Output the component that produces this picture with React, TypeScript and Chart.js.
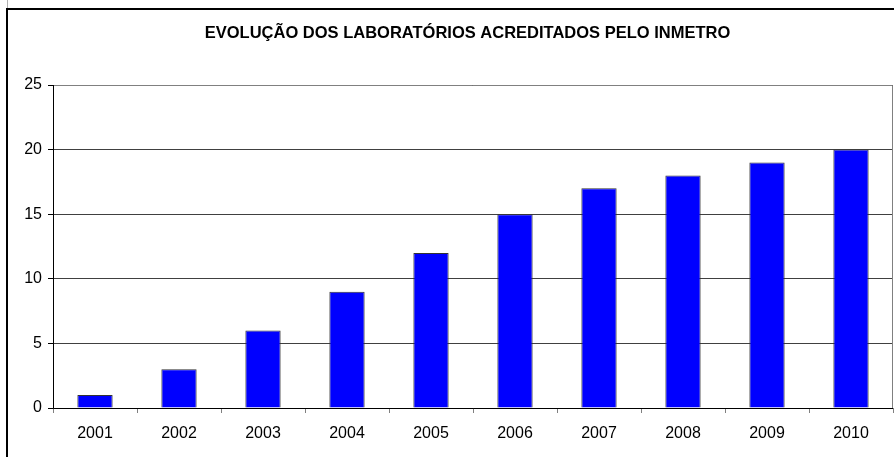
import React, { useEffect, useRef } from "react";
import { Chart, registerables } from "chart.js";

Chart.register(...registerables);

const TITLE = "EVOLUÇÃO DOS LABORATÓRIOS ACREDITADOS PELO INMETRO";
const years = ["2001", "2002", "2003", "2004", "2005", "2006", "2007", "2008", "2009", "2010"];
const labs = [1, 3, 6, 9, 12, 15, 17, 18, 19, 20];
const yMin = 0;
const yMax = 25;
const yStep = 5;

const FONT = "'Liberation Sans', Arial, sans-serif";

const framePlugin = {
  id: "frame",
  beforeDraw(chart: any) {
    const ctx = chart.ctx;
    ctx.save();
    ctx.fillStyle = "#ffffff";
    ctx.fillRect(0, 0, chart.width, chart.height);
    ctx.strokeStyle = "#b0b0b0";
    ctx.lineWidth = 1;
    ctx.beginPath();
    ctx.moveTo(7.5, 0);
    ctx.lineTo(7.5, 9);
    ctx.stroke();
    ctx.strokeStyle = "#000000";
    ctx.lineWidth = 2;
    ctx.beginPath();
    ctx.moveTo(7, chart.height + 2);
    ctx.lineTo(7, 9);
    ctx.lineTo(chart.width + 2, 9);
    ctx.stroke();
    // title
    ctx.fillStyle = "#000000";
    ctx.font = `bold 16.5px ${FONT}`;
    ctx.textAlign = "center";
    ctx.textBaseline = "middle";
    ctx.fillText(TITLE, 467.5, 33);
    ctx.restore();
  },
  afterDraw(chart: any) {
    const { ctx, chartArea } = chart;
    ctx.save();
    ctx.lineWidth = 1;
    ctx.strokeStyle = "#808080";
    ctx.beginPath();
    ctx.moveTo(chartArea.left, Math.round(chartArea.top) + 0.5);
    ctx.lineTo(Math.round(chartArea.right) - 0.5, Math.round(chartArea.top) + 0.5);
    ctx.lineTo(Math.round(chartArea.right) - 0.5, chartArea.bottom);
    ctx.stroke();
    ctx.strokeStyle = "#000000";
    ctx.beginPath();
    ctx.moveTo(Math.round(chartArea.left) + 0.5, chartArea.top);
    ctx.lineTo(Math.round(chartArea.left) + 0.5, Math.round(chartArea.bottom) + 0.5);
    ctx.lineTo(chartArea.right, Math.round(chartArea.bottom) + 0.5);
    ctx.stroke();
    ctx.restore();
  },
};

export default function App() {
  const ref = useRef<HTMLCanvasElement | null>(null);

  useEffect(() => {
    if (!ref.current) return;
    const chart = new Chart(ref.current, {
      type: "bar",
      data: {
        labels: years,
        datasets: [
          {
            label: "Laboratórios",
            data: labs,
            backgroundColor: "#0000ff",
            borderColor: "#333333",
            borderWidth: 1,
            barPercentage: 0.42,
            categoryPercentage: 1,
          },
        ],
      },
      options: {
        responsive: false,
        animation: false,
        devicePixelRatio: 1,
        layout: { padding: { left: 10, right: 1, top: 85, bottom: 0 } },
        plugins: {
          legend: { display: false },
          tooltip: { enabled: false },
          title: { display: false },
        },
        scales: {
          x: {
            offset: true,
            grid: {
              display: true,
              offset: true,
              drawOnChartArea: false,
              drawTicks: true,
              tickLength: 5,
              color: "#808080",
            },
            border: { display: false },
            ticks: {
              color: "#000000",
              font: { family: FONT, size: 16 },
              padding: 11,
              maxRotation: 0,
              autoSkip: false,
            },
            afterFit: (scale: any) => {
              scale.height = 49;
            },
          },
          y: {
            min: yMin,
            max: yMax,
            grid: {
              color: "#404040",
              tickLength: 5,
              tickColor: "#000000",
            },
            border: { display: false },
            ticks: {
              stepSize: yStep,
              color: "#000000",
              font: { family: FONT, size: 16 },
              padding: 6,
            },
            afterFit: (scale: any) => {
              scale.width = 43;
            },
          },
        },
      },
      plugins: [framePlugin],
    });
    return () => chart.destroy();
  }, []);

  return (
    <div style={{ position: "absolute", left: 0, top: 0, width: 894, height: 457 }}>
      <canvas ref={ref} width={894} height={457} style={{ display: "block" }} />
    </div>
  );
}
